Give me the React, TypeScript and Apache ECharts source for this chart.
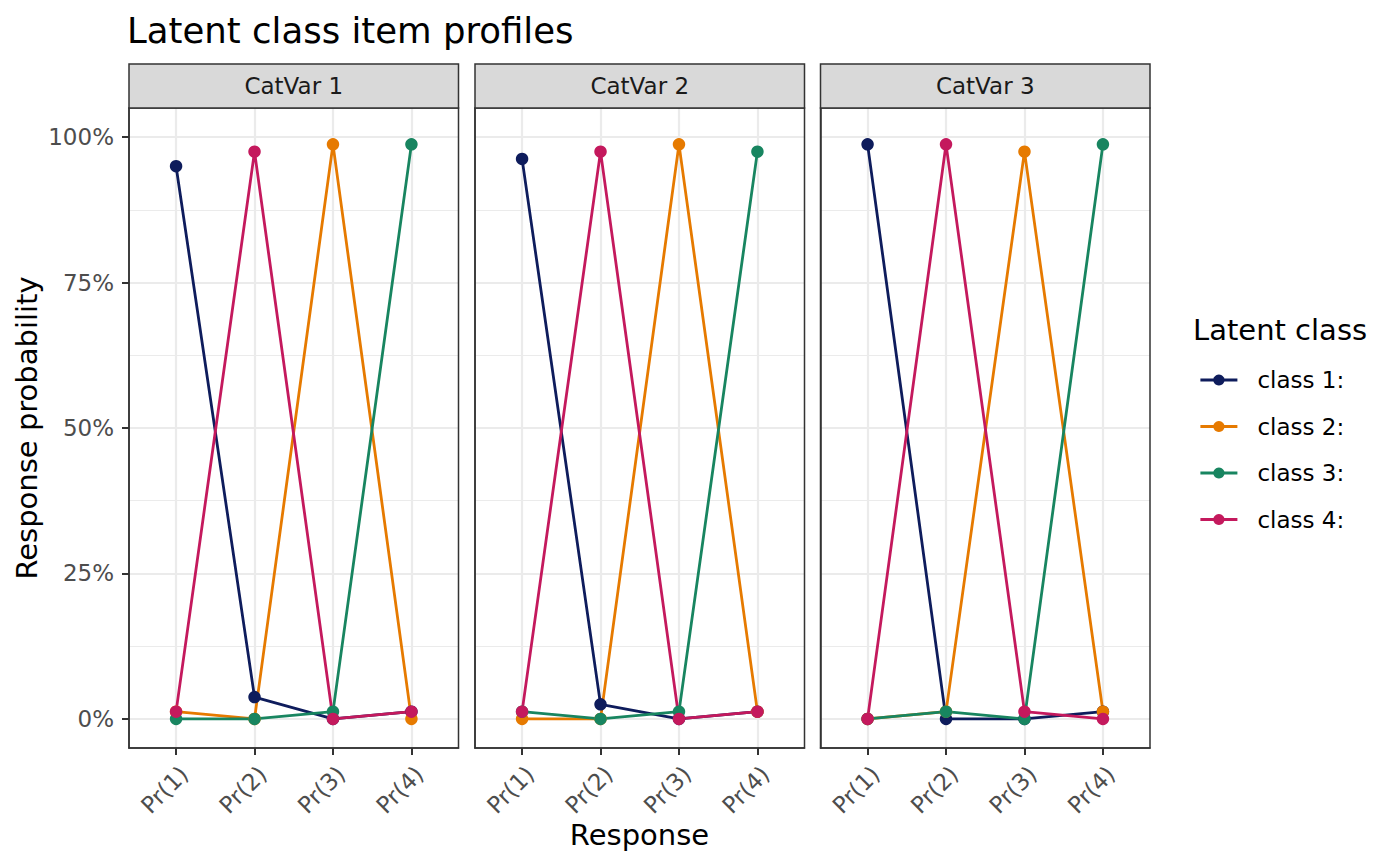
import React, { useEffect, useRef } from "react";
import * as echarts from "echarts";

// ---------- data ----------
const categories = ["Pr(1)", "Pr(2)", "Pr(3)", "Pr(4)"];
const panels = ["CatVar 1", "CatVar 2", "CatVar 3"];
const classNames = ["class 1:", "class 2:", "class 3:", "class 4:"];
const classColors = ["#0E1C5C", "#E67A00", "#188560", "#C4195D"];

const catVar1Class1 = [0.95, 0.0375, 0, 0.0125];
const catVar1Class2 = [0.0125, 0, 0.9875, 0];
const catVar1Class3 = [0, 0, 0.0125, 0.9875];
const catVar1Class4 = [0.0125, 0.975, 0, 0.0125];

const catVar2Class1 = [0.9625, 0.025, 0, 0.0125];
const catVar2Class2 = [0, 0, 0.9875, 0.0125];
const catVar2Class3 = [0.0125, 0, 0.0125, 0.975];
const catVar2Class4 = [0.0125, 0.975, 0, 0.0125];

const catVar3Class1 = [0.9875, 0, 0, 0.0125];
const catVar3Class2 = [0, 0.0125, 0.975, 0.0125];
const catVar3Class3 = [0, 0.0125, 0, 0.9875];
const catVar3Class4 = [0, 0.9875, 0.0125, 0];

const yTicks = [0, 0.25, 0.5, 0.75, 1];
const yTickLabels = ["0%", "25%", "50%", "75%", "100%"];
const yMinorTicks = [0.125, 0.375, 0.625, 0.875];
const xTicks = [1, 2, 3, 4];

const panelValues = [
  [catVar1Class1, catVar1Class2, catVar1Class3, catVar1Class4],
  [catVar2Class1, catVar2Class2, catVar2Class3, catVar2Class4],
  [catVar3Class1, catVar3Class2, catVar3Class3, catVar3Class4],
];

// ---------- layout ----------
const FONT = "DejaVu Sans";
const panelLefts = [129, 475, 820.5];
const panelWidth = 329.5;
const panelTop = 108;
const panelHeight = 640;
const stripTop = 64;
const stripHeight = 44;
const BORDER = "#333333";
const LINE_W = 2.8;

export default function App() {
  const ref = useRef<HTMLDivElement>(null);

  useEffect(() => {
    if (!ref.current) return;
    const chart = echarts.init(ref.current, null, { renderer: "svg" });

    const grids = panelLefts.map((left) => ({
      left,
      top: panelTop,
      width: panelWidth,
      height: panelHeight,
      show: false,
      containLabel: false,
    }));

    const xAxes = panelLefts.map((_, p) => ({
      type: "value",
      gridIndex: p,
      position: "bottom",
      min: 0.4,
      max: 4.6,
      axisLine: { show: true, onZero: false, lineStyle: { color: BORDER, width: 1.5 } },
      axisTick: {
        show: true,
        customValues: xTicks,
        length: 7,
        lineStyle: { color: BORDER, width: 2 },
      },
      axisLabel: {
        show: true,
        customValues: xTicks,
        formatter: (v: number) => categories[Math.round(v) - 1] ?? "",
        rotate: 45,
        align: "right",
        verticalAlign: "top",
        margin: 14,
        color: "#4D4D4D",
        fontSize: 23,
        fontFamily: FONT,
      },
      splitLine: { show: true, lineStyle: { color: "#EBEBEB", width: 2.2 } },
    }));

    const yAxes: any[] = [];
    panelLefts.forEach((_, p) => {
      yAxes.push({
        type: "value",
        gridIndex: p,
        position: "left",
        min: -0.05,
        max: 1.05,
        axisLine: { show: true, onZero: false, lineStyle: { color: BORDER, width: 1.5 } },
        axisTick: {
          show: p === 0,
          customValues: yTicks,
          length: 7,
          lineStyle: { color: BORDER, width: 2 },
        },
        axisLabel: {
          show: p === 0,
          customValues: yTicks,
          formatter: (v: number) => {
            const i = yTicks.findIndex((t) => Math.abs(t - v) < 1e-9);
            return i >= 0 ? yTickLabels[i] : "";
          },
          margin: 15,
          color: "#4D4D4D",
          fontSize: 23,
          fontFamily: FONT,
        },
        splitLine: { show: true, lineStyle: { color: "#EBEBEB", width: 2.2 } },
      });
      yAxes.push({
        type: "value",
        gridIndex: p,
        min: -0.05,
        max: 1.05,
        position: "left",
        axisLine: { show: false, onZero: false },
        axisTick: { show: false, customValues: yMinorTicks },
        axisLabel: { show: false, customValues: yMinorTicks },
        splitLine: { show: true, lineStyle: { color: "#EBEBEB", width: 1.1 } },
      });
    });

    const series: any[] = [];
    panelValues.forEach((classes, p) => {
      classes.forEach((vals, c) => {
        series.push({
          type: "line",
          name: classNames[c],
          xAxisIndex: p,
          yAxisIndex: p * 2,
          data: vals.map((v, i) => [i + 1, v]),
          symbol: "none",
          lineStyle: { color: classColors[c], width: LINE_W },
          itemStyle: { color: classColors[c] },
          color: classColors[c],
          z: 2,
          emphasis: { disabled: true },
          silent: true,
        });
      });
    });
    panelValues.forEach((classes, p) => {
      classes.forEach((vals, c) => {
        series.push({
          type: "scatter",
          name: classNames[c],
          xAxisIndex: p,
          yAxisIndex: p * 2,
          data: vals.map((v, i) => [i + 1, v]),
          symbol: "circle",
          symbolSize: 12.5,
          itemStyle: { color: classColors[c], opacity: 1 },
          z: 3,
          emphasis: { disabled: true },
          silent: true,
        });
      });
    });

    const graphics: any[] = [];
    panelLefts.forEach((left, p) => {
      graphics.push({
        type: "rect",
        shape: { x: left, y: panelTop, width: panelWidth, height: panelHeight },
        style: { fill: "none", stroke: BORDER, lineWidth: 1.5 },
        z: 100,
        silent: true,
      });
      graphics.push({
        type: "rect",
        shape: { x: left, y: stripTop, width: panelWidth, height: stripHeight },
        style: { fill: "#D9D9D9", stroke: BORDER, lineWidth: 1.5 },
        z: 100,
        silent: true,
      });
      graphics.push({
        type: "text",
        x: left + panelWidth / 2,
        y: stripTop + stripHeight / 2,
        style: {
          text: panels[p],
          fontSize: 23,
          fontFamily: FONT,
          fill: "#1A1A1A",
          align: "center",
          verticalAlign: "middle",
        },
        z: 101,
        silent: true,
      });
    });
    graphics.push({
      type: "text",
      x: 27,
      y: panelTop + panelHeight / 2,
      rotation: Math.PI / 2,
      style: {
        text: "Response probability",
        fontSize: 29,
        fontFamily: FONT,
        fill: "#000000",
        align: "center",
        verticalAlign: "middle",
      },
      silent: true,
    });
    graphics.push({
      type: "text",
      x: (panelLefts[0] + panelLefts[2] + panelWidth) / 2,
      y: 834.5,
      style: {
        text: "Response",
        fontSize: 29,
        fontFamily: FONT,
        fill: "#000000",
        align: "center",
        verticalAlign: "middle",
      },
      silent: true,
    });
    graphics.push({
      type: "text",
      x: 1193,
      y: 330,
      style: {
        text: "Latent class",
        fontSize: 29,
        fontFamily: FONT,
        fill: "#000000",
        align: "left",
        verticalAlign: "middle",
      },
      silent: true,
    });

    chart.setOption({
      animation: false,
      backgroundColor: "#FFFFFF",
      textStyle: { fontFamily: FONT },
      title: {
        text: "Latent class item profiles",
        left: 127,
        top: 12,
        padding: 0,
        textStyle: {
          fontSize: 35.5,
          fontWeight: "normal",
          color: "#000000",
          fontFamily: FONT,
        },
      },
      legend: {
        data: classNames,
        orient: "vertical",
        left: 1199,
        top: 368,
        padding: 0,
        itemWidth: 37,
        itemHeight: 14,
        itemGap: 22.5,
        selectedMode: false,
        lineStyle: { width: LINE_W },
        textStyle: {
          fontSize: 23,
          lineHeight: 24,
          color: "#000000",
          fontFamily: FONT,
          padding: [0, 0, 0, 15],
        },
      },
      grid: grids,
      xAxis: xAxes,
      yAxis: yAxes,
      series,
      graphic: graphics,
    });

    return () => chart.dispose();
  }, []);

  return (
    <div
      ref={ref}
      style={{ position: "fixed", left: 0, top: 0, width: 1400, height: 866 }}
    />
  );
}
